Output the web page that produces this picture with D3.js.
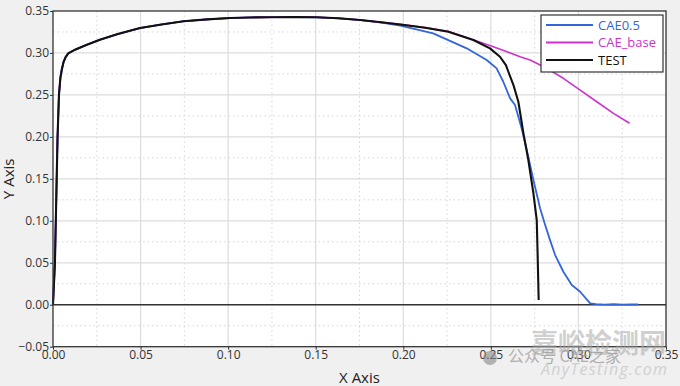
<!DOCTYPE html>
<html>
<head>
<meta charset="utf-8">
<script src="https://cdn.jsdelivr.net/npm/d3@7"></script>
<style>
  html, body { margin: 0; padding: 0; background: #f0f0f0; }
  svg { display: block; }
  text { font-family: "Open Sans", "Noto Sans", sans-serif; }
</style>
</head>
<body>
<svg id="chart" width="680" height="386"></svg>
<script>
// ---------- data ----------
const xTicks = [0, 0.05, 0.10, 0.15, 0.20, 0.25, 0.30, 0.35];
const yTicks = [-0.05, 0, 0.05, 0.10, 0.15, 0.20, 0.25, 0.30, 0.35];
const seriesNames = ["CAE0.5", "CAE_base", "TEST"];

const testX = [0, 0.0011, 0.0016, 0.0021, 0.0026, 0.0034, 0.0042, 0.005, 0.006, 0.0072, 0.0087, 0.0126, 0.019, 0.0268, 0.037, 0.0497, 0.062, 0.0744, 0.088, 0.101, 0.1126, 0.125, 0.1385, 0.1506, 0.163, 0.1755, 0.1875,
  0.1983, 0.2125, 0.2257, 0.24, 0.2495, 0.2552, 0.2586, 0.26, 0.2629, 0.2657, 0.2686, 0.2714, 0.2743, 0.2762, 0.2767, 0.2773];
const testY = [0, 0.05, 0.10, 0.15, 0.20, 0.25, 0.27, 0.28, 0.289, 0.295, 0.2995, 0.3039, 0.3095, 0.3158, 0.3225, 0.3297, 0.334, 0.3377, 0.34, 0.3416, 0.3423, 0.3426, 0.3427, 0.3425, 0.3413, 0.3392, 0.3365,
  0.334, 0.33, 0.3253, 0.3154, 0.3055, 0.2955, 0.2856, 0.2776, 0.2618, 0.2419, 0.2042, 0.1724, 0.1327, 0.1009, 0.06, 0.0056];

const cae05X = [0, 0.0011, 0.0016, 0.0021, 0.0026, 0.0034, 0.0042, 0.005, 0.006, 0.0072, 0.0087, 0.0126, 0.019, 0.0268, 0.037, 0.0497, 0.062, 0.0744, 0.088, 0.101, 0.1126, 0.125, 0.1385, 0.1506, 0.163, 0.1755, 0.1875,
  0.1983, 0.2171, 0.2362, 0.2476, 0.2533, 0.2571, 0.261, 0.2638, 0.2676, 0.2705, 0.2743, 0.2781, 0.281, 0.2838, 0.2867, 0.2914, 0.2962, 0.301, 0.3067, 0.31, 0.315, 0.32, 0.325, 0.33, 0.3342];
const cae05Y = [0, 0.05, 0.10, 0.15, 0.20, 0.25, 0.27, 0.28, 0.289, 0.295, 0.2995, 0.3039, 0.3095, 0.3158, 0.3225, 0.3297, 0.334, 0.3377, 0.34, 0.3416, 0.3423, 0.3426, 0.3427, 0.3425, 0.3413, 0.3392, 0.3362,
  0.3325, 0.3234, 0.3055, 0.2916, 0.2817, 0.2657, 0.2459, 0.238, 0.21, 0.1843, 0.1486, 0.115, 0.095, 0.077, 0.0592, 0.0393, 0.0235, 0.0155, 0.0017, 0.0008, 0.0002, 0.0006, 0.0001, 0.0005, 0.0003];

const caeBaseX = [0, 0.0011, 0.0016, 0.0021, 0.0026, 0.0034, 0.0042, 0.005, 0.006, 0.0072, 0.0087, 0.0126, 0.019, 0.0268, 0.037, 0.0497, 0.062, 0.0744, 0.088, 0.101, 0.1126, 0.125, 0.1385, 0.1506, 0.163, 0.1755, 0.1875,
  0.1983, 0.2125, 0.2257, 0.2457, 0.2514, 0.2667, 0.2724, 0.2819, 0.2914, 0.301, 0.3105, 0.32, 0.3292];
const caeBaseY = [0, 0.05, 0.10, 0.15, 0.20, 0.25, 0.27, 0.28, 0.289, 0.295, 0.2995, 0.3039, 0.3095, 0.3158, 0.3225, 0.3297, 0.334, 0.3377, 0.34, 0.3416, 0.3423, 0.3426, 0.3427, 0.3425, 0.3413, 0.3392, 0.3365,
  0.3342, 0.3302, 0.3258, 0.3115, 0.3075, 0.2955, 0.2916, 0.2817, 0.2698, 0.2558, 0.2419, 0.2281, 0.2162];

// ---------- layout ----------
const svg = d3.select("#chart");
const L = 53, R = 666, T = 11, B = 346.7;
const x = d3.scaleLinear().domain([0, 0.35]).range([L, R]);
const y = d3.scaleLinear().domain([-0.05, 0.35]).range([B, T]);

svg.append("rect").attr("width", 680).attr("height", 386).attr("fill", "#f0f0f0");
svg.append("rect").attr("x", L).attr("y", T).attr("width", R - L).attr("height", B - T).attr("fill", "#ffffff");

// grid: solid at major ticks, dotted at midpoints
const g = svg.append("g");
const xMinor = d3.range(0, 7).map(i => xTicks[i] + 0.025);
const yMinor = d3.range(0, 8).map(i => yTicks[i] + 0.025);
g.selectAll(".vx").data(xTicks.slice(1, -1)).join("line")
  .attr("x1", d => x(d)).attr("x2", d => x(d)).attr("y1", T).attr("y2", B)
  .attr("stroke", "#dcdcdc").attr("stroke-width", 1.2);
g.selectAll(".hy").data(yTicks.slice(1, -1)).join("line")
  .attr("x1", L).attr("x2", R).attr("y1", d => y(d)).attr("y2", d => y(d))
  .attr("stroke", "#dcdcdc").attr("stroke-width", 1.2);
g.selectAll(".vxm").data(xMinor).join("line")
  .attr("x1", d => x(d)).attr("x2", d => x(d)).attr("y1", T).attr("y2", B)
  .attr("stroke", "#d6d6d6").attr("stroke-width", 1).attr("stroke-dasharray", "1.5,3");
g.selectAll(".hym").data(yMinor).join("line")
  .attr("x1", L).attr("x2", R).attr("y1", d => y(d)).attr("y2", d => y(d))
  .attr("stroke", "#d6d6d6").attr("stroke-width", 1).attr("stroke-dasharray", "1.5,3");

// zero line
svg.append("line").attr("x1", L).attr("x2", R).attr("y1", y(0)).attr("y2", y(0))
  .attr("stroke", "#333").attr("stroke-width", 1.3);

// ---------- series ----------
function pts(xs, ys) { return xs.map((v, i) => [v, ys[i]]); }
const line = d3.line().x(d => x(d[0])).y(d => y(d[1]));
const series = [
  { name: seriesNames[0], data: pts(cae05X, cae05Y), color: "#3366d6", w: 1.8 },
  { name: seriesNames[1], data: pts(caeBaseX, caeBaseY), color: "#cc33cc", w: 1.6 },
  { name: seriesNames[2], data: pts(testX, testY), color: "#111111", w: 2.1 }
];
svg.append("g").selectAll("path").data(series).join("path")
  .attr("d", d => line(d.data)).attr("fill", "none")
  .attr("stroke", d => d.color).attr("stroke-width", d => d.w)
  .attr("stroke-linejoin", "round");

// frame
svg.append("rect").attr("x", L).attr("y", T).attr("width", R - L).attr("height", B - T)
  .attr("fill", "none").attr("stroke", "#333").attr("stroke-width", 1.3);

// ---------- axes ----------
const fmt = d3.format(".2f");
const ax = svg.append("g").attr("transform", `translate(0,${B})`)
  .call(d3.axisBottom(x).tickValues(xTicks).tickFormat(fmt).tickSize(3).tickPadding(1));
const ay = svg.append("g").attr("transform", `translate(${L},0)`)
  .call(d3.axisLeft(y).tickValues(yTicks).tickFormat(fmt).tickSize(3).tickPadding(1));
[ax, ay].forEach(a => {
  a.select(".domain").remove();
  a.selectAll("line").attr("stroke", "#333");
  a.selectAll("text").attr("fill", "#333").attr("font-size", 12)
    .style("font-family", '"Open Sans", sans-serif');
});

svg.append("text").attr("x", x(0.175)).attr("y", 383).attr("text-anchor", "middle")
  .attr("font-size", 15).attr("fill", "#222").text("X Axis");
svg.append("text").attr("transform", `translate(14,${(T + B) / 2}) rotate(-90)`)
  .attr("text-anchor", "middle").attr("font-size", 15).attr("fill", "#222").text("Y Axis");

// ---------- legend ----------
const lg = svg.append("g");
lg.append("rect").attr("x", 541).attr("y", 15).attr("width", 122).attr("height", 57)
  .attr("fill", "#fff").attr("stroke", "#333").attr("stroke-width", 1.2);
series.forEach((s, i) => {
  const yy = 25 + i * 17.5;
  lg.append("line").attr("x1", 546).attr("x2", 593).attr("y1", yy).attr("y2", yy)
    .attr("stroke", s.color).attr("stroke-width", 2);
  lg.append("text").attr("x", 598).attr("y", yy + 4.5).attr("font-size", 13)
    .attr("fill", s.color).text(s.name);
});

// ---------- watermark ----------
const wm = svg.append("g").attr("pointer-events", "none");
wm.append("text").attr("x", 531).attr("y", 353).attr("font-size", 27)
  .attr("fill", "#aaa").attr("opacity", 0.55)
  .style("font-family", '"Noto Sans CJK SC", sans-serif').style("font-weight", "bold")
  .attr("textLength", 135).text("嘉峪检测网");
wm.append("circle").attr("cx", 490).attr("cy", 358).attr("r", 7).attr("fill", "#888").attr("opacity", 0.6);
wm.append("text").attr("x", 508).attr("y", 362).attr("font-size", 16)
  .attr("fill", "#999").attr("opacity", 0.75)
  .style("font-family", '"Noto Sans CJK SC", sans-serif')
  .text("公众号 CAE之家");
wm.append("text").attr("x", 541).attr("y", 375).attr("font-size", 16)
  .attr("fill", "#bbb").attr("opacity", 0.6).attr("font-style", "italic")
  .attr("textLength", 126).text("AnyTesting.com");
</script>
</body>
</html>
